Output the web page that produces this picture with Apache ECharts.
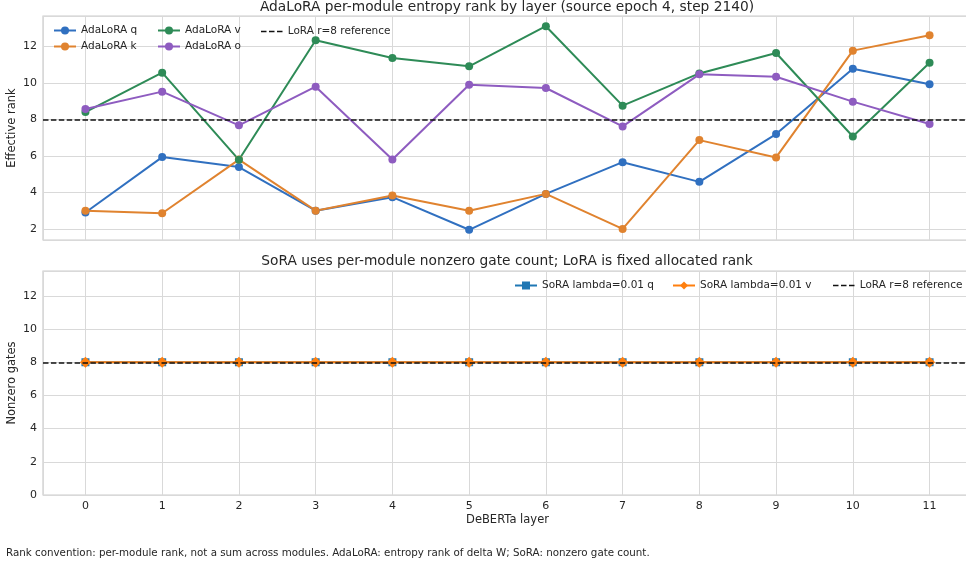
<!DOCTYPE html>
<html>
<head>
<meta charset="utf-8">
<script src="https://cdn.jsdelivr.net/npm/echarts@6/dist/echarts.min.js"></script>
<style>
  html, body { margin: 0; padding: 0; background: #fff; }
  #chart { width: 966px; height: 565px; }
</style>
</head>
<body>
<div id="chart"></div>
<script>
// layers 0..11
const layers = [0, 1, 2, 3, 4, 5, 6, 7, 8, 9, 10, 11]

// AdaLoRA entropy rank per module
const adaQ = [2.90, 5.94, 5.39, 3.00, 3.74, 1.95, 3.92, 5.66, 4.58, 7.20, 10.79, 9.93]
const adaK = [3.00, 2.86, 5.80, 3.00, 3.83, 2.99, 3.92, 2.00, 6.87, 5.92, 11.78, 12.62]
const adaV = [8.41, 10.57, 5.79, 12.35, 11.38, 10.92, 13.12, 8.76, 10.53, 11.65, 7.07, 11.12]
const adaO = [8.58, 9.53, 7.68, 9.80, 5.81, 9.91, 9.73, 7.62, 10.48, 10.35, 8.98, 7.75]

// SoRA nonzero gate count
const soraQ = [8, 8, 8, 8, 8, 8, 8, 8, 8, 8, 8, 8]
const soraV = [8, 8, 8, 8, 8, 8, 8, 8, 8, 8, 8, 8]

const loraRank = 8

const FONT = 'DejaVu Sans'
const TXT = '#262626'
const DASH_ICON = 'path://M0,0h5.5v1.5h-5.5z M8,0h5.5v1.5h-5.5z M16,0h5.5v1.5h-5.5z'

function pairs(ys) {
  return layers.map((x, i) => [x, ys[i]])
}

const chart = echarts.init(document.getElementById('chart'))

function xAxisOpt(grid, withLabels) {
  return {
    type: 'value', gridIndex: grid,
    min: -0.553, max: 11.553, splitNumber: 12,
    axisLine: { show: false }, axisTick: { show: false },
    axisLabel: {
      show: withLabels, color: TXT, fontFamily: FONT, fontSize: 11, margin: 6,
      showMinLabel: false, showMaxLabel: false
    },
    splitLine: { show: true, lineStyle: { color: '#d9d9d9', width: 1 } },
    name: withLabels ? 'DeBERTa layer' : '',
    nameLocation: 'middle', nameGap: 19,
    nameTextStyle: { color: TXT, fontFamily: FONT, fontSize: 11.5 }
  }
}

function yAxisOpt(grid, min, max, name) {
  return {
    type: 'value', gridIndex: grid, min: min, max: max, splitNumber: 6,
    axisLine: { show: false }, axisTick: { show: false },
    axisLabel: {
      color: TXT, fontFamily: FONT, fontSize: 11, margin: 6,
      showMinLabel: min === 0, showMaxLabel: false
    },
    splitLine: { show: true, lineStyle: { color: '#d9d9d9', width: 1 } },
    name: name, nameLocation: 'middle', nameGap: 25, nameMoveOverlap: false,
    nameTextStyle: { color: TXT, fontFamily: FONT, fontSize: 11.5 }
  }
}

function adaSeries(name, data, color) {
  return {
    name: name, type: 'line', xAxisIndex: 0, yAxisIndex: 0,
    data: pairs(data), symbol: 'circle', symbolSize: 8,
    lineStyle: { color: color, width: 2 },
    itemStyle: { color: color }
  }
}

function refSeries(x, y) {
  return {
    name: 'LoRA r=8 reference', type: 'line', xAxisIndex: x, yAxisIndex: y,
    data: [], symbol: 'none', z: 5,
    lineStyle: { color: '#111', width: 1.5, type: [5.5, 2.4] },
    itemStyle: { color: '#111' },
    markLine: {
      silent: true, symbol: 'none', label: { show: false },
      lineStyle: { color: '#111', width: 1.5, type: [5.5, 2.4] },
      data: [{ yAxis: loraRank }]
    }
  }
}

const legendText = { color: TXT, fontFamily: FONT, fontSize: 10.5 }

chart.setOption({
  animation: false,
  backgroundColor: '#fff',
  title: [
    {
      text: 'AdaLoRA per-module entropy rank by layer (source epoch 4, step 2140)',
      left: 502, top: -5, textAlign: 'center',
      textStyle: { color: TXT, fontFamily: FONT, fontSize: 13.75, fontWeight: 'normal' }
    },
    {
      text: 'SoRA uses per-module nonzero gate count; LoRA is fixed allocated rank',
      left: 502, top: 249, textAlign: 'center',
      textStyle: { color: TXT, fontFamily: FONT, fontSize: 13.75, fontWeight: 'normal' }
    },
    {
      text: 'Rank convention: per-module rank, not a sum across modules. AdaLoRA: entropy rank of delta W; SoRA: nonzero gate count.',
      left: 1, top: 543,
      textStyle: { color: TXT, fontFamily: FONT, fontSize: 10.3, fontWeight: 'normal' }
    }
  ],
  grid: [
    { left: 43, right: -6, top: 16, height: 224, show: true, borderColor: '#cccccc', borderWidth: 1.2, outerBoundsMode: 'none', containLabel: false },
    { left: 43, right: -6, top: 271, height: 224, show: true, borderColor: '#cccccc', borderWidth: 1.2, outerBoundsMode: 'none', containLabel: false }
  ],
  legend: [
    {
      data: ['AdaLoRA q', 'AdaLoRA k'], orient: 'vertical', left: 53, top: 25, padding: 0,
      itemWidth: 22, itemHeight: 10, itemGap: 5, textStyle: legendText
    },
    {
      data: ['AdaLoRA v', 'AdaLoRA o'], orient: 'vertical', left: 157, top: 25, padding: 0,
      itemWidth: 22, itemHeight: 10, itemGap: 5, textStyle: legendText
    },
    {
      data: [{ name: 'LoRA r=8 reference', icon: DASH_ICON }], left: 261, top: 26, padding: 0,
      itemWidth: 22, itemHeight: 1.5, textStyle: legendText
    },
    {
      data: ['SoRA lambda=0.01 q', 'SoRA lambda=0.01 v'],
      orient: 'horizontal', left: 514, top: 280, padding: 0,
      itemWidth: 22, itemHeight: 10, itemGap: 18, textStyle: legendText
    },
    {
      data: [{ name: 'LoRA r=8 reference', icon: DASH_ICON }], left: 833, top: 280, padding: 0,
      itemWidth: 22, itemHeight: 1.5, textStyle: legendText
    }
  ],
  xAxis: [xAxisOpt(0, false), xAxisOpt(1, true)],
  yAxis: [
    yAxisOpt(0, 1.39, 13.68, 'Effective rank'),
    yAxisOpt(1, 0, 13.5, 'Nonzero gates')
  ],
  series: [
    adaSeries('AdaLoRA q', adaQ, '#3070c0'),
    adaSeries('AdaLoRA k', adaK, '#e0832f'),
    adaSeries('AdaLoRA v', adaV, '#2e8b57'),
    adaSeries('AdaLoRA o', adaO, '#8e5cc0'),
    refSeries(0, 0),
    {
      name: 'SoRA lambda=0.01 q', type: 'line', xAxisIndex: 1, yAxisIndex: 1,
      data: pairs(soraQ), symbol: 'rect', symbolSize: 8,
      lineStyle: { color: '#1f77b4', width: 2 }, itemStyle: { color: '#1f77b4' }
    },
    {
      name: 'SoRA lambda=0.01 v', type: 'line', xAxisIndex: 1, yAxisIndex: 1,
      data: pairs(soraV), symbol: 'diamond', symbolSize: 11,
      lineStyle: { color: '#ff7f0e', width: 2 }, itemStyle: { color: '#ff7f0e' }
    },
    refSeries(1, 1)
  ]
})
</script>
</body>
</html>
